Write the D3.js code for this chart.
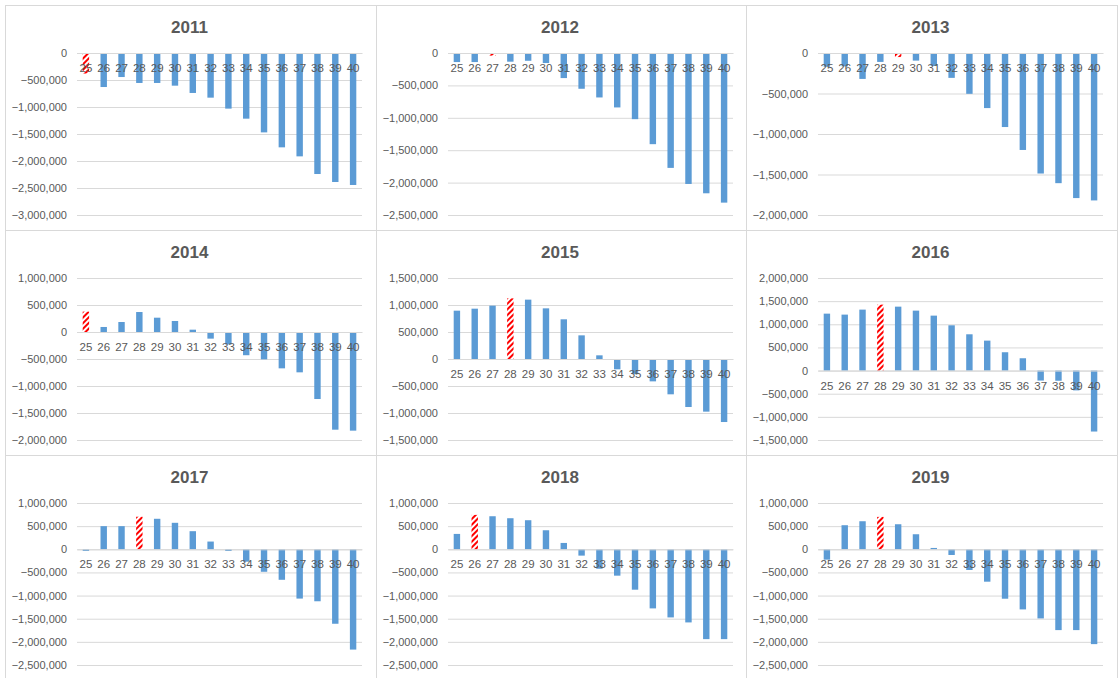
<!DOCTYPE html>
<html>
<head>
<meta charset="utf-8">
<script src="https://cdn.jsdelivr.net/npm/d3@7"></script>
<style>
  body { margin: 0; background: #fff; }
  text { font-family: "Liberation Sans", Arial, sans-serif; fill: #595959; }
  .title { font-size: 17px; font-weight: bold; }
  .tick { font-size: 11px; }
</style>
</head>
<body>
<svg id="chart" width="1118" height="678"></svg>
<script>
// age categories on the x axis
var ages = ["25","26","27","28","29","30","31","32","33","34","35","36","37","38","39","40"];
var years = ["2011","2012","2013","2014","2015","2016","2017","2018","2019"];

// values
var v2011 = [-380000,-630000,-445000,-555000,-555000,-605000,-740000,-827000,-1030000,-1216000,-1470000,-1747000,-1914000,-2241000,-2389000,-2444000];
var v2012 = [-140000,-140000,-40000,-134000,-120000,-155000,-387000,-552000,-686000,-840000,-1021000,-1407000,-1773000,-2021000,-2165000,-2309000];
var v2013 = [-170000,-165000,-320000,-110000,-50000,-94000,-160000,-307000,-504000,-680000,-914000,-1197000,-1488000,-1607000,-1791000,-1820000];
var v2014 = [377000,93000,185000,370000,265000,204000,43000,-123000,-230000,-430000,-506000,-673000,-747000,-1241000,-1809000,-1827000];
var v2015 = [895000,932000,988000,1123000,1099000,938000,735000,438000,68000,-191000,-280000,-414000,-654000,-889000,-975000,-1167000];
var v2016 = [1230000,1209000,1317000,1424000,1381000,1295000,1187000,978000,784000,647000,396000,266000,-216000,-220000,-428000,-1317000];
var v2017 = [-36000,500000,500000,703000,659000,572000,391000,167000,-36000,-268000,-486000,-659000,-1065000,-1123000,-1609000,-2167000];
var v2018 = [332000,743000,714000,671000,628000,411000,137000,-137000,-420000,-570000,-873000,-1277000,-1472000,-1580000,-1941000,-1941000];
var v2019 = [-224000,520000,606000,700000,541000,325000,29000,-123000,-447000,-700000,-1068000,-1299000,-1494000,-1746000,-1746000,-2049000];

// the hatched (red) bar in each panel
var highlight = ["25","27","29","25","28","28","28","26","28"];

// axis bounds of each panel
var yMin = [-3000000,-2500000,-2000000,-2000000,-1500000,-1500000,-2500000,-2500000,-2500000];
var yMax = [0,0,0,1000000,1500000,2000000,1000000,1000000,1000000];

var series = [v2011,v2012,v2013,v2014,v2015,v2016,v2017,v2018,v2019];

var colX = [5, 376, 746, 1117];
var rowY = [5, 230, 455, 700];
var plotLeft = 72, plotW = 285;
var plotTop = 48, plotH = 162;

var svg = d3.select("#chart");

var defs = svg.append("defs");
var pat = defs.append("pattern")
  .attr("id", "hatch")
  .attr("patternUnits", "userSpaceOnUse")
  .attr("width", 4).attr("height", 4)
  .attr("patternTransform", "rotate(45)");
pat.append("rect").attr("width", 4).attr("height", 4).attr("fill", "#fff");
pat.append("rect").attr("width", 2).attr("height", 4).attr("fill", "#ff0000");

var fmt = d3.format(",");

years.forEach(function(year, i) {
  var c = i % 3, r = Math.floor(i / 3);
  var x0 = colX[c], y0 = rowY[r];
  var pw = colX[c + 1] - x0, ph = rowY[r + 1] - y0;

  var g = svg.append("g").attr("transform", "translate(" + x0 + "," + y0 + ")");

  g.append("rect")
    .attr("x", 0.5).attr("y", 0.5)
    .attr("width", pw).attr("height", ph)
    .attr("fill", "none").attr("stroke", "#d9d9d9");

  g.append("text").attr("class", "title")
    .attr("x", pw / 2 - 1).attr("y", 24)
    .attr("text-anchor", "middle").attr("dominant-baseline", "middle")
    .text(year);

  var x = d3.scaleBand().domain(ages).range([plotLeft, plotLeft + plotW]).paddingInner(0.64).paddingOuter(0.32);
  var y = d3.scaleLinear().domain([yMin[i], yMax[i]]).range([plotTop + plotH, plotTop]);
  var ticks = d3.range(yMin[i], yMax[i] + 1, 500000);

  var yAxis = d3.axisLeft(y).tickValues(ticks).tickSize(-plotW).tickPadding(10).tickFormat(fmt);
  var ag = g.append("g").attr("transform", "translate(" + plotLeft + ",0)").call(yAxis);
  ag.select(".domain").remove();
  ag.selectAll("line").attr("stroke", "#d9d9d9");
  ag.selectAll("text").attr("class", "tick").attr("fill", "#595959")
    .style("font-size", "11px").style("font-family", "'Liberation Sans', Arial, sans-serif");

  var data = ages.map(function(a, j) { return { age: a, v: series[i][j] }; });

  g.selectAll("rect.bar").data(data).enter().append("rect")
    .attr("class", "bar")
    .attr("x", function(d) { return x(d.age); })
    .attr("width", x.bandwidth())
    .attr("y", function(d) { return y(Math.max(0, d.v)); })
    .attr("height", function(d) { return Math.abs(y(d.v) - y(0)); })
    .attr("fill", function(d) { return d.age == highlight[i] ? "url(#hatch)" : "#5b9bd5"; });

  var xAxis = d3.axisBottom(x).tickSize(0).tickPadding(11);
  var xg = g.append("g").attr("transform", "translate(0," + y(0) + ")").call(xAxis);
  xg.select(".domain").attr("stroke", "#d9d9d9");
  xg.selectAll("text").attr("fill", "#595959")
    .style("font-size", "11.5px").style("font-family", "'Liberation Sans', Arial, sans-serif");
});
</script>
</body>
</html>
